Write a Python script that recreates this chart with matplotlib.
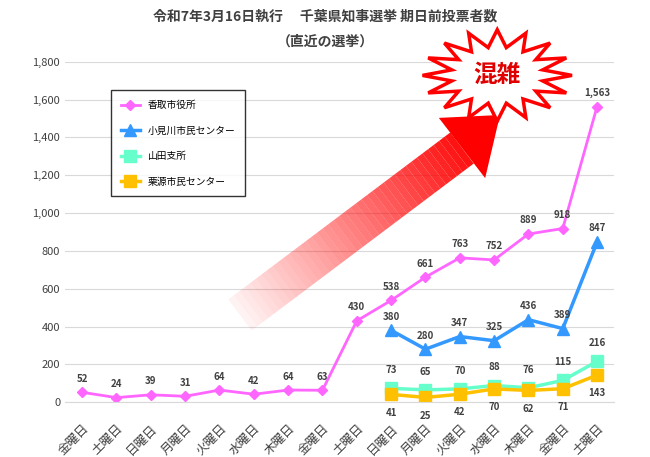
import matplotlib.pyplot as plt
import numpy as np
from matplotlib.patches import Polygon

plt.rcParams['font.family'] = 'Noto Sans CJK JP'

days = ['金曜日', '土曜日', '日曜日', '月曜日', '火曜日', '水曜日', '木曜日', '金曜日',
        '土曜日', '日曜日', '月曜日', '火曜日', '水曜日', '木曜日', '金曜日', '土曜日']
katori = [52, 24, 39, 31, 64, 42, 64, 63, 430, 538, 661, 763, 752, 889, 918, 1563]
omigawa = [380, 280, 347, 325, 436, 389, 847]
yamada = [73, 65, 70, 88, 76, 115, 216]
kurimoto = [41, 25, 42, 70, 62, 71, 143]
late_start = 9

W, H = 650, 457
fig = plt.figure(figsize=(6.5, 4.57), dpi=100)
ax = fig.add_axes([0.1, 0.12, 0.845, 0.745])
x = np.arange(len(days))
xl = x[late_start:]

ax.plot(x, katori, color='#ff66ff', marker='D', ms=5, lw=2, label='香取市役所')
ax.plot(xl, omigawa, color='#3399ff', marker='^', ms=9, lw=2.5, label='小見川市民センター')
ax.plot(xl, yamada, color='#66ffcc', marker='s', ms=9, lw=2.5, label='山田支所')
ax.plot(xl, kurimoto, color='#ffc000', marker='s', ms=9, lw=2.5, label='栗源市民センター')

lab = dict(ha='center', fontsize=7, fontweight='bold', color='#404040')
for i, v in zip(x, katori):
    ax.text(i, v + 45, f'{v:,}', va='bottom', **lab)
for i, v in zip(xl, omigawa):
    ax.text(i, v + 45, f'{v}', va='bottom', **lab)
for i, v in zip(xl, yamada):
    ax.text(i, v + 70, f'{v}', va='bottom', **lab)
for i, v in zip(xl, kurimoto):
    ax.text(i, v - 70, f'{v}', va='top', **lab)

ax.set_ylim(0, 1800)
ax.set_yticks(range(0, 1801, 200))
ax.set_yticklabels([f'{v:,}' for v in range(0, 1801, 200)], fontsize=8, color='#404040')
ax.set_xlim(-0.5, len(days) - 0.5)
ax.set_xticks(x)
ax.set_xticklabels(days, rotation=45, ha='right', rotation_mode='anchor', fontsize=9, color='#404040')
ax.tick_params(axis='x', pad=14)
ax.grid(axis='y', color='#d9d9d9', lw=0.8)
ax.set_axisbelow(True)
for s in ['top', 'right', 'left']:
    ax.spines[s].set_visible(False)
ax.spines['bottom'].set_color('#d9d9d9')
ax.tick_params(length=0)

leg = ax.legend(loc='upper left', bbox_to_anchor=(0.075, 0.93), fontsize=7, frameon=True,
                fancybox=False, edgecolor='black', labelspacing=1.6, borderpad=1.0)

fig.text(0.5, 0.955, '令和7年3月16日執行　 千葉県知事選挙 期日前投票者数', ha='center',
         fontsize=10, fontweight='bold', color='#404040')
fig.text(0.5, 0.9, '（直近の選挙）', ha='center', fontsize=10, fontweight='bold', color='#404040')

# gradient arrow (pixel coords -> figure fraction)
p0 = np.array([240.0, 315.0])
p1 = np.array([462.0, 148.0])
tip = np.array([500.0, 115.0])
d = (tip - p0) / np.linalg.norm(tip - p0)
nrm = np.array([-d[1], d[0]])
n = 40
for k in range(n):
    a = p0 + (p1 - p0) * k / n
    b = p0 + (p1 - p0) * (k + 1) / n
    fig.add_artist(plt.Line2D([a[0] / W, b[0] / W], [1 - a[1] / H, 1 - b[1] / H], lw=28,
                              color='red', alpha=0.05 + 0.9 * k / n, solid_capstyle='butt'))
head = np.array([p1 + nrm * 38, tip, p1 - nrm * 38])
head_f = np.c_[head[:, 0] / W, 1 - head[:, 1] / H]
fig.add_artist(Polygon(head_f, closed=True, facecolor='red', edgecolor='none'))

# starburst
cx, cy = 0.765, 0.835
ang = np.linspace(0, 2 * np.pi, 33)[:-1]
r = np.where(np.arange(32) % 2 == 0, 1.0, 0.62)
pts = np.c_[cx + 0.115 * r * np.cos(ang), cy + 0.1 * r * np.sin(ang)]
fig.add_artist(Polygon(pts, closed=True, facecolor='white', edgecolor='red', lw=2.5))
fig.text(cx, cy, '混雑', ha='center', va='center', fontsize=17, fontweight='bold', color='#e00000')

fig.savefig('out.png')
